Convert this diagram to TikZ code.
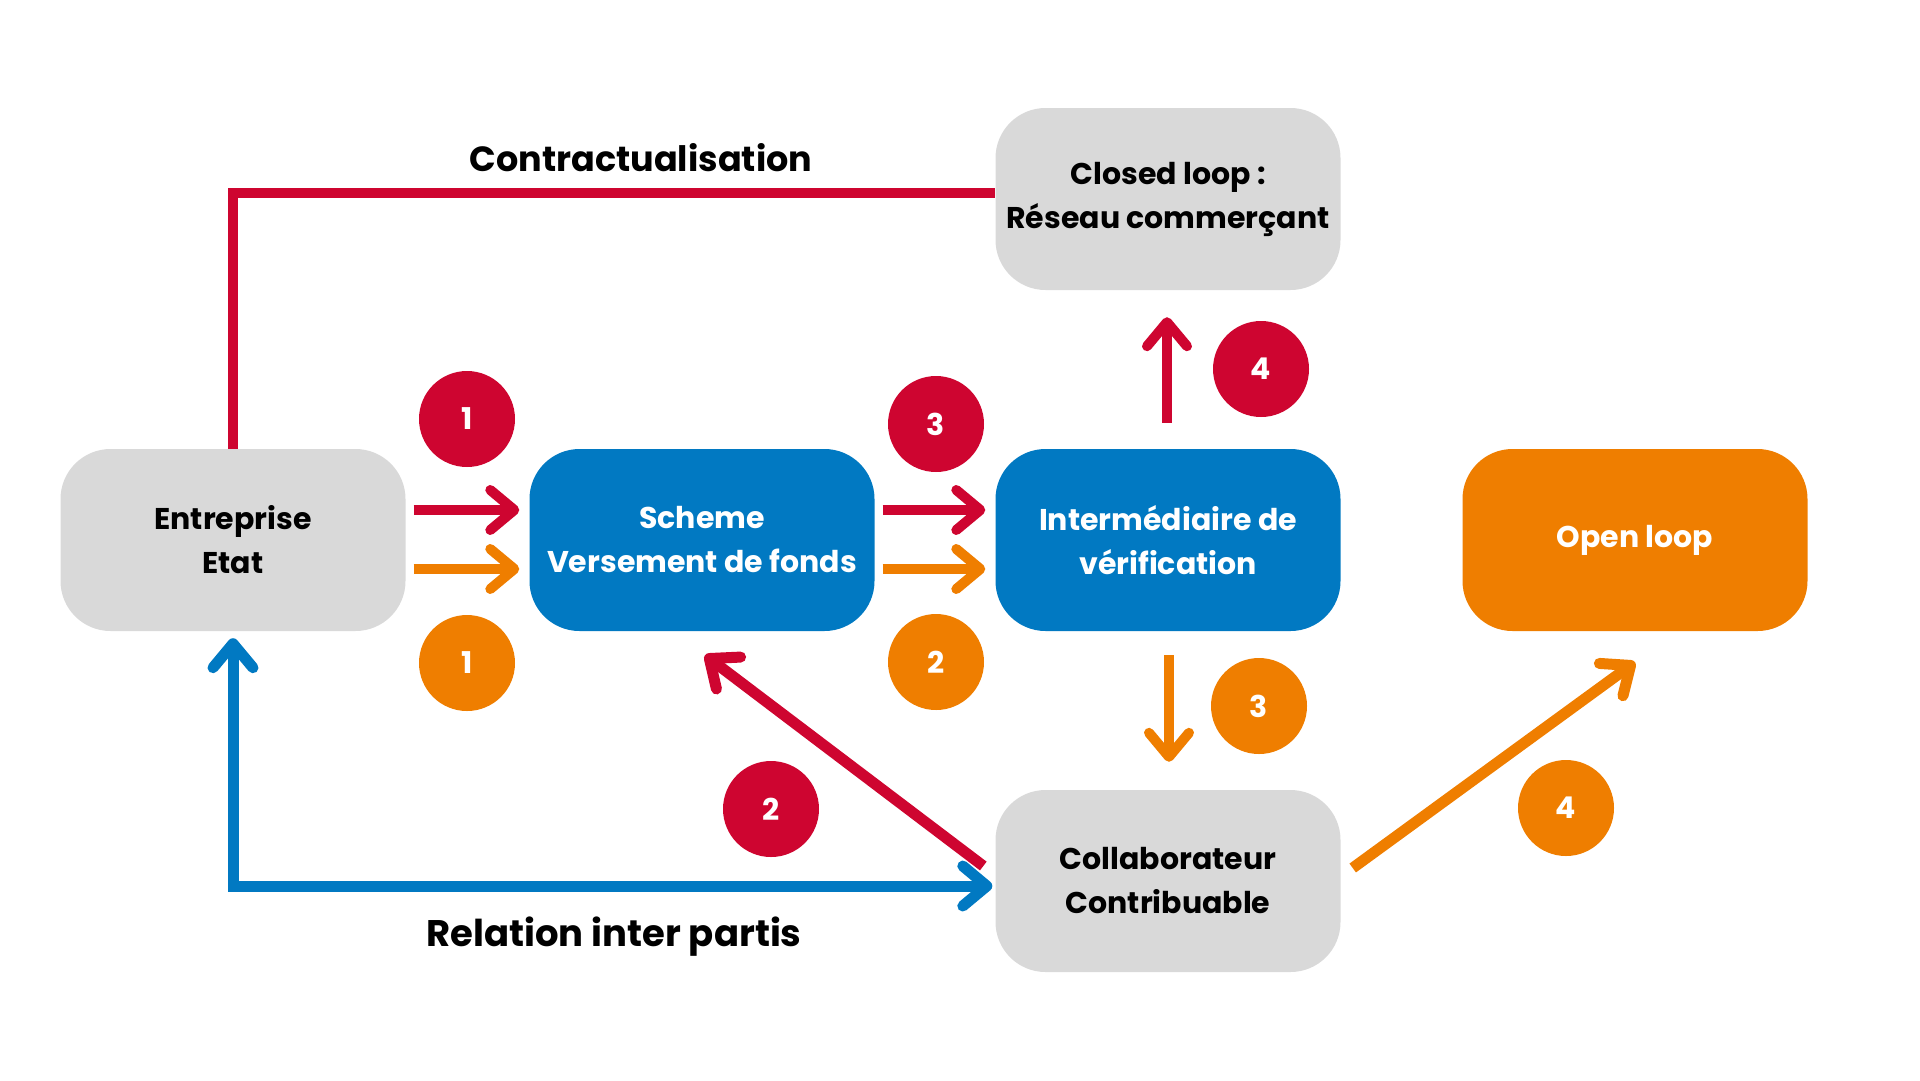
\documentclass[tikz,border=0pt]{standalone}
\usepackage{fontspec}
\setmainfont{Poppins}
\usetikzlibrary{arrows.meta}
\definecolor{cred}{HTML}{CE0530}
\definecolor{cblue}{HTML}{0179C2}
\definecolor{corange}{HTML}{EF7E00}
\definecolor{cgray}{HTML}{D9D9D9}
\tikzset{
  box/.style={rectangle, rounded corners=50pt, minimum width=345pt, minimum height=182pt,
    inner sep=0pt, align=center, font=\fontsize{30}{44}\selectfont\bfseries},
  graybox/.style={box, fill=cgray, text=black},
  bluebox/.style={box, fill=cblue, text=white},
  orangebox/.style={box, fill=corange, text=white},
  badge/.style={circle, minimum size=96pt, inner sep=0pt, text=white,
    font=\fontsize{30}{30}\selectfont\bfseries},
  conn/.style={line width=10pt, -{Straight Barb[length=24pt,width=40pt,round]}},
  lbl/.style={font=\fontsize{35}{35}\selectfont\bfseries, text=black, inner sep=0pt}
}
\begin{document}
\begin{tikzpicture}[x=1pt,y=-1pt]
\useasboundingbox (0,0) rectangle (1920,1080);
% boxes
\node[graybox] (ent) at (233,540) {Entreprise\\Etat};
\node[bluebox] (sch) at (702,540) {Scheme\\Versement de fonds};
\node[bluebox] (int) at (1168,540) {Intermédiaire de\\vérification};
\node[orangebox] (open) at (1635,540) {Open loop};
\node[graybox] (closed) at (1168,199) {Closed loop :\\Réseau commerçant};
\node[graybox] (coll) at (1168,881) {Collaborateur\\Contribuable};
% labels
\node[lbl] (contr) at (641,158) {Contractualisation};
\node[lbl, font=\fontsize{37}{37}\selectfont\bfseries] (rel) at (614,937) {Relation inter partis};
% top red line
\draw[cred, line width=10pt] (ent.north) |- ([shift={(0,-6)}]closed.west);
% horizontal arrows
\draw[conn, cred] ([shift={(8,-30)}]ent.east) -- ([shift={(-10,-30)}]sch.west);
\draw[conn, corange] ([shift={(8,29)}]ent.east) -- ([shift={(-10,29)}]sch.west);
\draw[conn, cred] ([shift={(8,-30)}]sch.east) -- ([shift={(-10,-30)}]int.west);
\draw[conn, corange] ([shift={(8,29)}]sch.east) -- ([shift={(-10,29)}]int.west);
% vertical arrows
\draw[conn, cred] ([shift={(-1,-26)}]int.north) -- ([shift={(-1,27)}]closed.south);
\draw[conn, corange] ([shift={(1,24)}]int.south) -- ([shift={(1,-28)}]coll.north);
% diagonals
\draw[conn, cred, line width=11pt] ([shift={(-12,-15)}]coll.west) -- ([shift={(3,24)}]sch.south);
\draw[conn, corange, line width=11pt] ([shift={(12,-13)}]coll.east) -- ([shift={(0,31)}]open.south);
% blue relation
\draw[line width=11pt, cblue, {Straight Barb[length=24pt,width=40pt,round]}-{Straight Barb[length=24pt,width=40pt,round]}]
  ([shift={(0,7)}]ent.south) |- ([shift={(-3,5)}]coll.west);
% badges
\node[badge, fill=cred] (r1) at (467,419) {1};
\node[badge, fill=corange] (o1) at (467,663) {1};
\node[badge, fill=cred] (r3) at (936,424) {3};
\node[badge, fill=corange] (o2) at (936,662) {2};
\node[badge, fill=cred] (r4) at (1261,369) {4};
\node[badge, fill=corange] (o3) at (1259,706) {3};
\node[badge, fill=cred] (r2) at (771,809) {2};
\node[badge, fill=corange] (o4) at (1566,808) {4};
\end{tikzpicture}
\end{document}
